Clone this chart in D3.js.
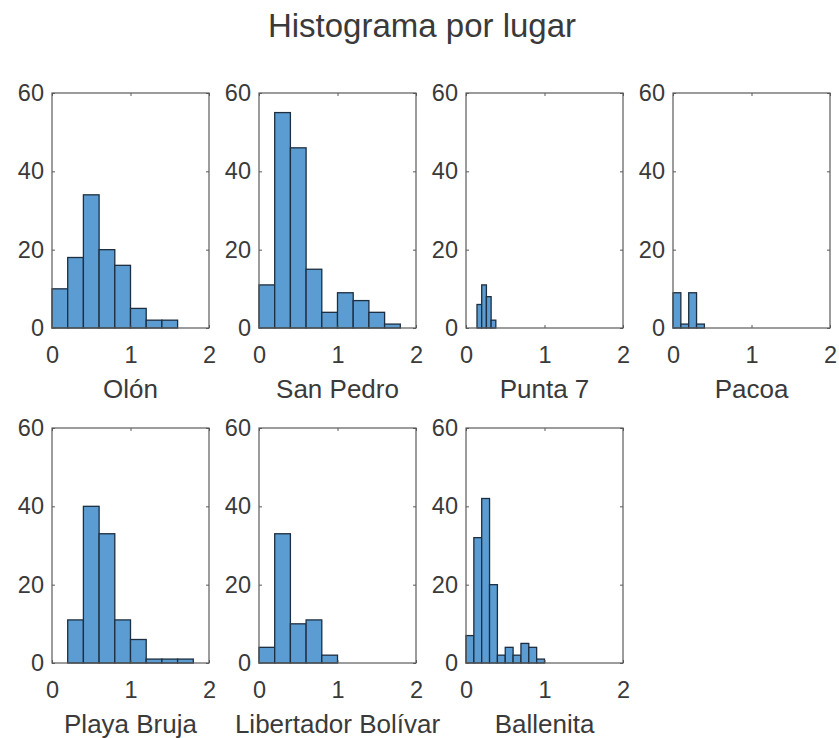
<!DOCTYPE html>
<html>
<head>
<meta charset="utf-8">
<script src="https://cdn.jsdelivr.net/npm/d3@7"></script>
<style>
  html, body { margin: 0; padding: 0; background: #fff; }
  svg { display: block; }
</style>
</head>
<body>
<svg id="chart" width="839" height="738"></svg>
<script>
// Histogram counts per beach, one array per place
const places = ["Olón", "San Pedro", "Punta 7", "Pacoa", "Playa Bruja", "Libertador Bolívar", "Ballenita"];
const countsOlon = [10, 18, 34, 20, 16, 5, 2, 2];
const countsSanPedro = [11, 55, 46, 15, 4, 9, 7, 4, 1];
const countsPunta7 = [6, 11, 8, 2];
const countsPacoa = [9, 1, 9, 1];
const countsPlayaBruja = [11, 40, 33, 11, 6, 1, 1, 1];
const countsLibertador = [4, 33, 10, 11, 2];
const countsBallenita = [7, 32, 42, 20, 2, 4, 2, 5, 4, 1];
// first bin edge and bin width for each place
const binStart = [0, 0, 0.14, 0, 0.2, 0, 0];
const binWidth = [0.2, 0.2, 0.06, 0.1, 0.2, 0.2, 0.1];
const xTicks = [0, 1, 2];
const yTicks = [0, 20, 40, 60];
const chartTitle = "Histograma por lugar";

const allCounts = [countsOlon, countsSanPedro, countsPunta7, countsPacoa,
                   countsPlayaBruja, countsLibertador, countsBallenita];

const svg = d3.select("#chart");
const fontFamily = "'Liberation Sans', Arial, Helvetica, sans-serif";
const textColor = "#3a3a3a";
const axisColor = "#5a5a5a";

svg.append("text")
  .attr("x", 422).attr("y", 37)
  .attr("text-anchor", "middle")
  .attr("font-family", fontFamily)
  .attr("font-size", 33)
  .attr("fill", textColor)
  .text(chartTitle);

// grid of subplots: 4 columns, 2 rows
const colLeft = [52, 259, 466, 673];
const rowTop = [93, 428];
const pw = 157, ph = 235;

places.forEach((name, i) => {
  const col = i % 4, row = Math.floor(i / 4);
  const g = svg.append("g")
    .attr("transform", `translate(${colLeft[col]},${rowTop[row]})`);

  const x = d3.scaleLinear().domain([0, 2]).range([0, pw]);
  const y = d3.scaleLinear().domain([0, 60]).range([ph, 0]);

  const counts = allCounts[i];
  const bins = counts.map((c, k) => ({
    x0: binStart[i] + k * binWidth[i],
    x1: binStart[i] + (k + 1) * binWidth[i],
    count: c
  }));

  g.selectAll("rect.bar")
    .data(bins)
    .join("rect")
    .attr("class", "bar")
    .attr("x", d => x(d.x0))
    .attr("width", d => x(d.x1) - x(d.x0))
    .attr("y", d => y(d.count))
    .attr("height", d => y(0) - y(d.count))
    .attr("fill", "#5b9dd2")
    .attr("stroke", "#1d2e40")
    .attr("stroke-width", 1.3);

  const styleAxis = sel => {
    sel.select(".domain").remove();
    sel.selectAll("line").attr("stroke", axisColor).attr("stroke-width", 1);
    sel.selectAll("text")
      .attr("font-family", fontFamily)
      .attr("font-size", 23.5)
      .attr("fill", textColor);
  };

  g.append("g")
    .attr("transform", `translate(0,${ph})`)
    .call(d3.axisBottom(x).tickValues(xTicks).tickFormat(d3.format("d"))
      .tickSizeInner(-3).tickSizeOuter(0).tickPadding(18))
    .call(styleAxis);
  g.append("g")
    .call(d3.axisLeft(y).tickValues(yTicks).tickFormat(d3.format("d"))
      .tickSizeInner(-3).tickSizeOuter(0).tickPadding(8))
    .call(styleAxis);
  g.append("g")
    .call(d3.axisTop(x).tickValues(xTicks).tickFormat("")
      .tickSizeInner(-3).tickSizeOuter(0))
    .call(styleAxis);
  g.append("g")
    .attr("transform", `translate(${pw},0)`)
    .call(d3.axisRight(y).tickValues(yTicks).tickFormat("")
      .tickSizeInner(-3).tickSizeOuter(0))
    .call(styleAxis);

  g.append("rect")
    .attr("x", 0).attr("y", 0)
    .attr("width", pw).attr("height", ph)
    .attr("fill", "none")
    .attr("stroke", axisColor)
    .attr("stroke-width", 1.2);

  g.append("text")
    .attr("x", pw / 2).attr("y", ph + 70)
    .attr("text-anchor", "middle")
    .attr("font-family", fontFamily)
    .attr("font-size", 26)
    .attr("fill", textColor)
    .text(name);
});
</script>
</body>
</html>
